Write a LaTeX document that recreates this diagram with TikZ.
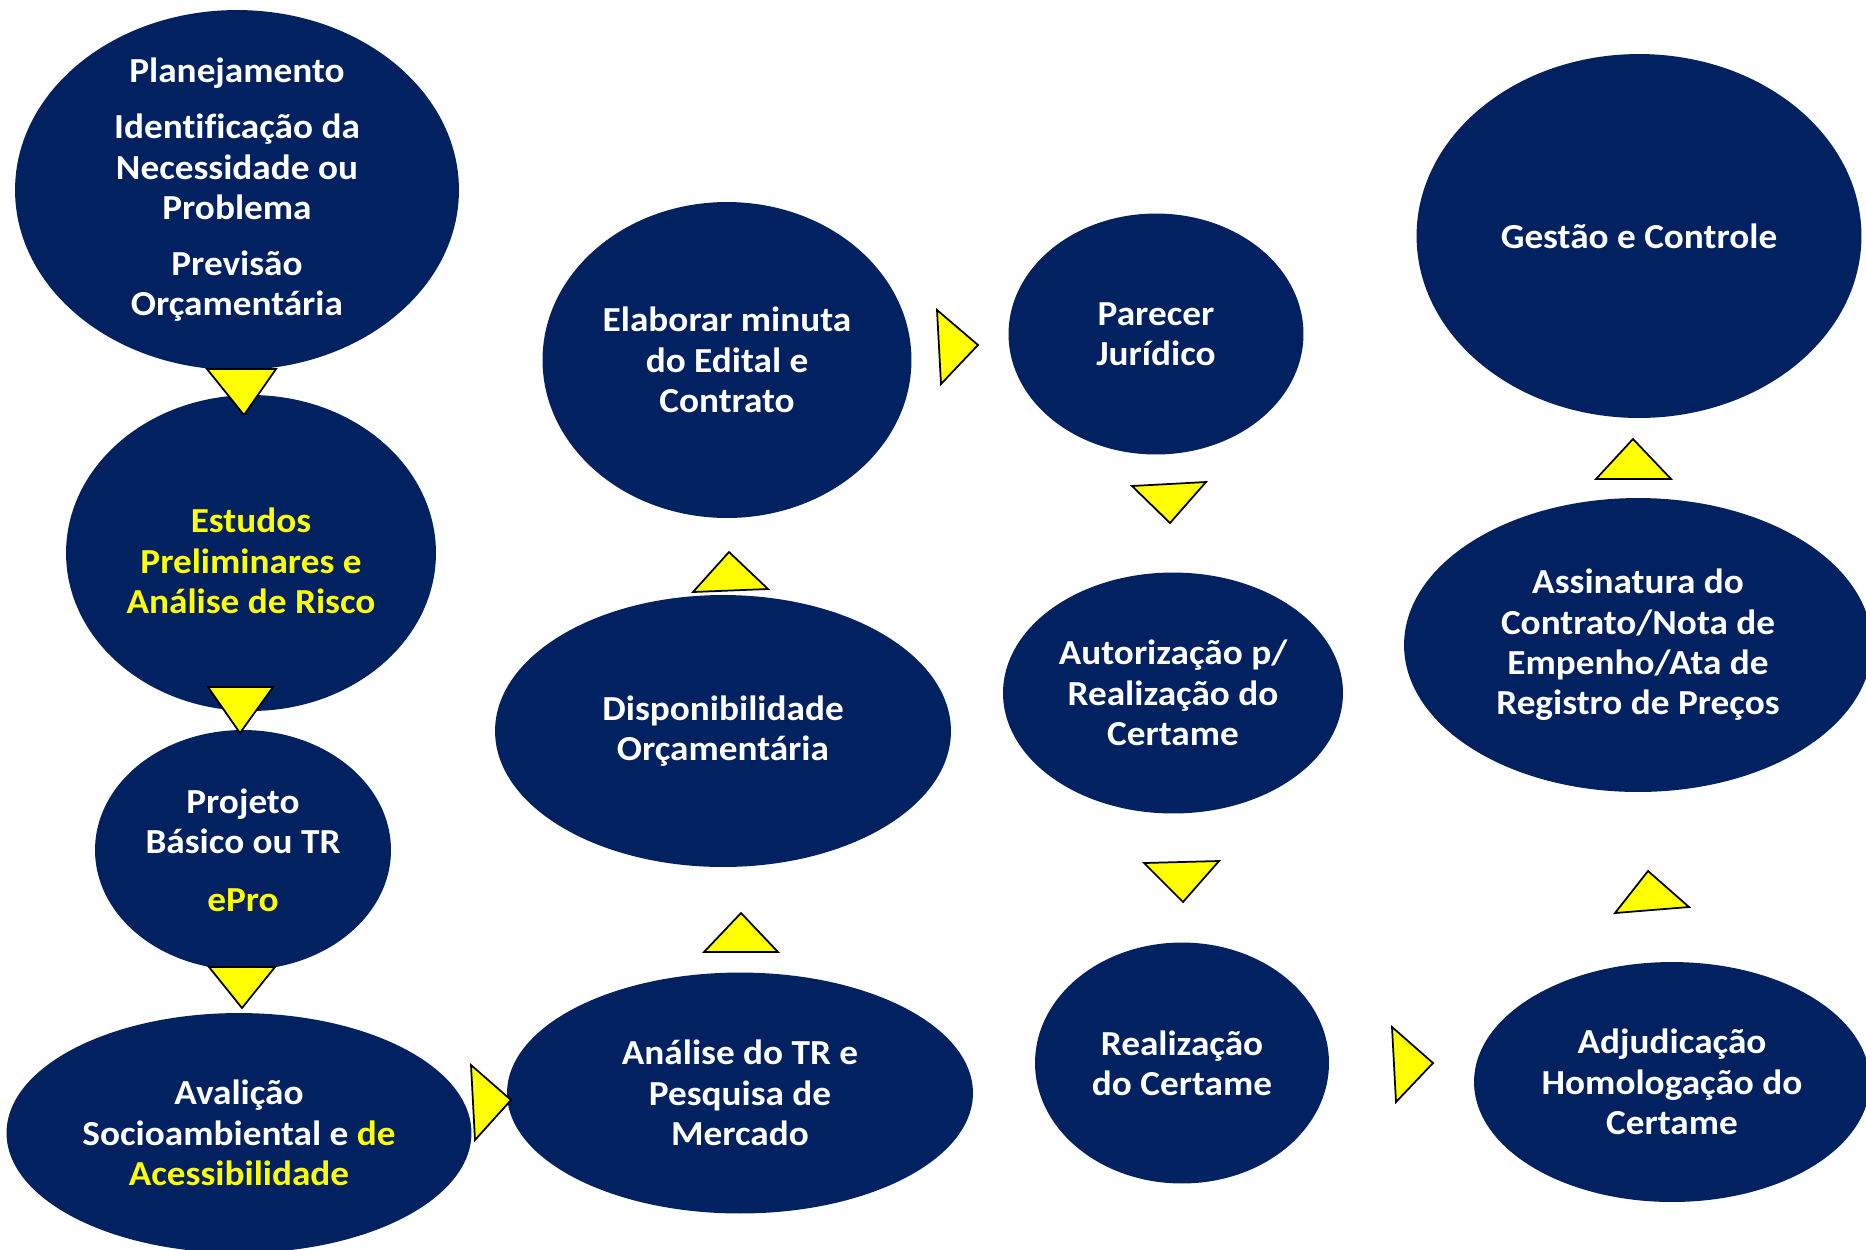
\documentclass[tikz,border=0pt]{standalone}
\usepackage{fontspec}
\setmainfont{Carlito}[FakeStretch=1.06, Ligatures=NoCommon]
\usetikzlibrary{shapes.geometric}

\definecolor{navy}{HTML}{022160}
\definecolor{hilite}{HTML}{FFFF00}

\begin{document}
\begin{tikzpicture}[
    x=0.02cm, y=-0.02cm,
    bubble/.style={ellipse, fill=navy, inner sep=0pt, align=center, text=white,
        font=\fontsize{20}{23}\selectfont\bfseries},
    tri/.style={draw=black, fill=hilite, line width=1pt, line join=miter}
]
    \useasboundingbox (0,0) rectangle (1866,1249);
    \clip (0,0) rectangle (1866,1249);

    % first column, top to bottom
    \node[bubble, minimum width=8.88cm, minimum height=7.2cm, inner ysep=-20pt] (plan) at (237,190)
        {Planejamento\\[8.8pt]Identificação da\\Necessidade ou\\Problema\\[8.8pt]Previsão\\Orçamentária};
    \node[bubble, minimum width=7.4cm, minimum height=6.32cm, text=hilite] (estudos) at (251,553)
        {\rule{0pt}{23pt}Estudos\\Preliminares e\\Análise de Risco};
    \node[bubble, minimum width=5.92cm, minimum height=4.8cm] (projeto) at (243,850)
        {Projeto\\Básico ou TR\\[9.6pt]\textcolor{hilite}{ePro}};
    \node[bubble, minimum width=9.3cm, minimum height=4.8cm] (avaliacao) at (239,1133)
        {Avalição\\Socioambiental e \textcolor{hilite}{de}\\\textcolor{hilite}{Acessibilidade}};

    % second column, bottom to top
    \node[bubble, minimum width=9.32cm, minimum height=4.82cm] (analise) at (740,1093)
        {Análise do TR e\\Pesquisa de\\Mercado};
    \node[bubble, minimum width=9.12cm, minimum height=5.44cm] (dispon) at (723,731)
        {Disponibilidade\\Orçamentária};
    \node[bubble, minimum width=7.38cm, minimum height=6.32cm] (minuta) at (727,360)
        {Elaborar minuta\\do Edital e\\Contrato};

    % third column, top to bottom
    \node[bubble, minimum width=5.9cm, minimum height=4.82cm] (parecer) at (1156,334)
        {Parecer\\Jurídico};
    \node[bubble, minimum width=6.8cm, minimum height=4.82cm] (autoriz) at (1173,693)
        {Autorização p/\\Realização do\\Certame};
    \node[bubble, minimum width=5.88cm, minimum height=4.82cm] (certame) at (1182,1063)
        {Realização\\do Certame};

    % last column, bottom to top
    \node[bubble, minimum width=7.92cm, minimum height=4.8cm] (adjud) at (1672,1082)
        {Adjudicação\\Homologação do\\Certame};
    \node[bubble, minimum width=9.36cm, minimum height=5.88cm] (assin) at (1638,645)
        {Assinatura do\\Contrato/Nota de\\Empenho/Ata de\\Registro de Preços};
    \node[bubble, minimum width=8.9cm, minimum height=7.28cm] (gestao) at (1639,236)
        {Gestão e Controle};

    % yellow arrow heads between the steps
    \draw[tri] (207,369) -- (276,369) -- (244,415) -- cycle;
    \draw[tri] (208,687) -- (273,687) -- (240,733) -- cycle;
    \draw[tri] (209,967) -- (275,967) -- (242,1008) -- cycle;
    \draw[tri] (471,1065) -- (475,1140) -- (511,1100) -- cycle;
    \draw[tri] (704,952) -- (778,952) -- (741,913) -- cycle;
    \draw[tri] (693,592) -- (768,589) -- (729,552) -- cycle;
    \draw[tri] (937,310) -- (941,384) -- (978,345) -- cycle;
    \draw[tri] (1132,486) -- (1206,482) -- (1170,523) -- cycle;
    \draw[tri] (1144,863) -- (1219,861) -- (1183,902) -- cycle;
    \draw[tri] (1392,1027) -- (1396,1102) -- (1433,1063) -- cycle;
    \draw[tri] (1615,913) -- (1689,907) -- (1648,871) -- cycle;
    \draw[tri] (1596,479) -- (1671,479) -- (1633,439) -- cycle;
\end{tikzpicture}
\end{document}
